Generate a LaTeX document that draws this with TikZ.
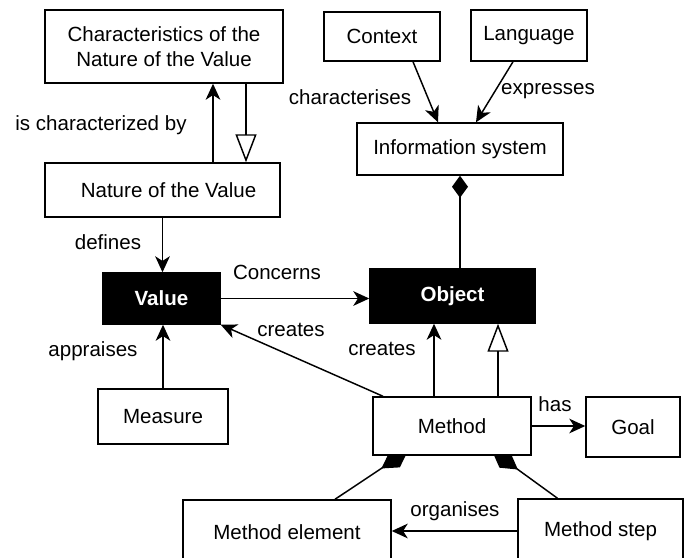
\documentclass[tikz,border=0pt]{standalone}
\usepackage{fontspec}
\setmainfont{Liberation Sans}
\usetikzlibrary{arrows.meta,calc,backgrounds}
\tikzset{every picture/.style={line width=1.1pt}}
\def\pxu{0.75pt}
\def\umlfont{\fontsize{15.4}{19}\selectfont}

\tikzset{
	umlbox/.style={draw, fill=white, inner sep=0pt, align=center, font=\umlfont},
	umlblack/.style={umlbox, fill=black, text=white, font=\umlfont\bfseries},
	lbl/.style={inner sep=0.75pt, font=\umlfont},
	link/.style={line width=1.1pt},
	assoc/.style={link, -{Stealth[length=12pt, width=11pt, inset=3.5pt]}},
	inherit/.style={link, -{Triangle[open, length=21pt, width=15.75pt]}},
	compo/.style={link, {Diamond[length=16.5pt, width=12pt]}-},
	compoB/.style={link, {Diamond[length=24pt, width=14pt]}-},
}

\begin{document}
\begin{tikzpicture}[x=0.75pt,y=0.75pt,yscale=-1,xscale=1]
	\useasboundingbox (0,0) rectangle (688,557);

	%Shape: Rectangle [charnat]
	\node [umlbox, minimum width=238*\pxu, minimum height=73*\pxu] (charnat) at (164,46.5) {Characteristics of the\\Nature of the Value};
	%Shape: Rectangle [nature]
	\node [umlbox, minimum width=235*\pxu, minimum height=54*\pxu] (nature) at (162.5,190) {\hspace{9pt}Nature of the Value};
	%Shape: Rectangle [context]
	\node [umlbox, minimum width=116*\pxu, minimum height=49*\pxu] (context) at (382,36.5) {Context};
	%Shape: Rectangle [language]
	\node [umlbox, minimum width=116*\pxu, minimum height=51*\pxu] (language) at (529,35.5) {Language};
	%Shape: Rectangle [infosys]
	\node [umlbox, minimum width=206*\pxu, minimum height=52*\pxu] (infosys) at (460,149) {Information system};
	%Shape: Rectangle [value]
	\node [umlblack, minimum width=117*\pxu, minimum height=51*\pxu] (value) at (161.5,298.5) {Value};
	%Shape: Rectangle [object]
	\node [umlblack, minimum width=165*\pxu, minimum height=54*\pxu] (object) at (452.5,296) {Object};
	%Shape: Rectangle [measure]
	\node [umlbox, minimum width=130*\pxu, minimum height=55*\pxu] (measure) at (163,416.5) {Measure};
	%Shape: Rectangle [method]
	\node [umlbox, minimum width=158*\pxu, minimum height=58*\pxu] (method) at (452,426) {Method};
	%Shape: Rectangle [goal]
	\node [umlbox, minimum width=94*\pxu, minimum height=60*\pxu] (goal) at (633,427) {Goal};
	%Shape: Rectangle [melem]
	\node [umlbox, minimum width=208*\pxu, minimum height=64*\pxu] (melem) at (287,532) {Method element};
	%Shape: Rectangle [mstep]
	\node [umlbox, minimum width=165*\pxu, minimum height=64*\pxu] (mstep) at (600.5,531) {Method step};

	\begin{scope}[on background layer]
		% Connectors
		\coordinate (chr) at ($(nature.north)+(50.5,0)$);
		\draw [assoc] (chr) -- (chr |- charnat.south);
		\coordinate (inhA) at ($(charnat.south)+(82,0)$);
		\draw [inherit] (inhA) -- (inhA |- nature.north);
		\draw [assoc] ($(context.south)+(31,0)$) -- ($(infosys.north)+(-22,0)$);
		\draw [assoc] ($(language.south)+(-16,0)$) -- ($(infosys.north)+(16,0)$);
		\draw [compo] (infosys.south) -- (infosys.south |- object.north);
		\draw [assoc] (nature.south) -- (nature.south |- value.north);
		\draw [assoc] (value.east) -- (value.east -| object.west);
		\draw [assoc] (measure.north) -- (measure.north |- value.south);
		\draw [assoc] ($(method.north)+(-69,0)$) -- (value.south east);
		\coordinate (crO) at ($(method.north)+(-18,0)$);
		\draw [assoc] (crO) -- (crO |- object.south);
		\coordinate (inhB) at ($(method.north)+(46,0)$);
		\draw [inherit] (inhB) -- (inhB |- object.south);
		\draw [assoc] (method.east) -- (method.east -| goal.west);
		\draw [compoB] ($(method.south)+(-44,-5)$) -- ($(melem.north)+(48,0)$);
		\draw [compoB] ($(method.south)+(40,-5)$) -- ($(mstep.north)+(-43,0)$);
		\draw [assoc] (mstep.west) -- (mstep.west -| melem.east);
	\end{scope}

	% Text Node
	\node [lbl] (lchr) at (101,125) {is characterized by};
	% Text Node
	\node [lbl] (lctx) at (350,97) {characterises};
	% Text Node
	\node [lbl] (lexp) at (548,91) {expresses};
	% Text Node
	\node [lbl] (ldef) at (108,242) {defines};
	% Text Node
	\node [lbl] (lcon) at (277,272) {Concerns};
	% Text Node
	\node [lbl] (lcrV) at (291,330) {creates};
	% Text Node
	\node [lbl] (lcrO) at (382,349) {creates};
	% Text Node
	\node [lbl] (lapp) at (93,351) {appraises};
	% Text Node
	\node [lbl] (lhas) at (555,404) {has};
	% Text Node
	\node [lbl] (lorg) at (455,511) {organises};

\end{tikzpicture}
\end{document}
